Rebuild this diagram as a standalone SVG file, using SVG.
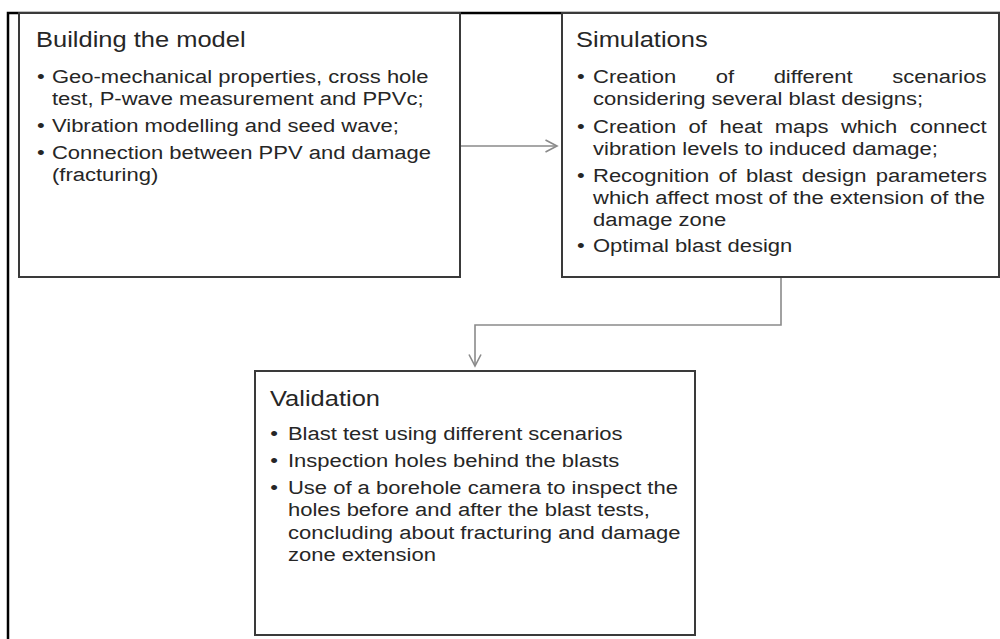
<svg xmlns="http://www.w3.org/2000/svg" width="1000" height="639" viewBox="0 0 1000 639">
  <style>
    .frame { fill: none; stroke: #000; stroke-width: 2.5; }
    .box { fill: #fff; stroke: #3a3a3a; stroke-width: 2; }
    .conn { fill: none; stroke: #8a8a8a; stroke-width: 1.6; }
    text { font-family: "Liberation Sans", Arial, sans-serif; fill: #262626; }
    .title { font-size: 22px; }
    .body { font-size: 19px; }
    .bul { font-size: 19px; text-anchor: middle; }
  </style>
  <defs>
    <marker id="chev" viewBox="0 0 14 14" refX="12.5" refY="7" markerWidth="14" markerHeight="14" markerUnits="userSpaceOnUse" orient="auto">
      <path d="M1,1 L12.5,7 L1,13" fill="none" stroke="#8a8a8a" stroke-width="1.6"/>
    </marker>
  </defs>

  <g id="frame">
    <path class="frame" d="M8,639 L8,13 L1000,13"/>
  </g>

  <g id="connectors">
    <path class="conn" d="M460,146 L557,146" marker-end="url(#chev)"/>
    <path class="conn" d="M781,277 L781,325 L475,325 L475,366" marker-end="url(#chev)"/>
  </g>

  <g id="node-building">
    <rect class="box" x="19" y="13" width="441" height="264"/>
    <g transform="translate(36,0) scale(1.158,1)">
      <text class="title" x="0" y="47">Building the model</text>
      <text class="bul" x="4.3" y="83">•</text>
      <text class="body" x="13.8" y="83">Geo-mechanical properties, cross hole</text>
      <text class="body" x="13.8" y="105">test, P-wave measurement and PPVc;</text>
      <text class="bul" x="4.3" y="132">•</text>
      <text class="body" x="13.8" y="132">Vibration modelling and seed wave;</text>
      <text class="bul" x="4.3" y="159">•</text>
      <text class="body" x="13.8" y="159">Connection between PPV and damage</text>
      <text class="body" x="13.8" y="181">(fracturing)</text>
    </g>
  </g>

  <g id="node-simulations">
    <rect class="box" x="562" y="13" width="437" height="264"/>
    <g transform="translate(576,0) scale(1.158,1)">
      <text class="title" x="0" y="47">Simulations</text>
      <text class="bul" x="4.3" y="83">•</text>
      <text class="body" x="14.7" y="83" word-spacing="28.9">Creation of different scenarios</text>
      <text class="body" x="14.7" y="105">considering several blast designs;</text>
      <text class="bul" x="4.3" y="133">•</text>
      <text class="body" x="14.7" y="133" word-spacing="5.5">Creation of heat maps which connect</text>
      <text class="body" x="14.7" y="155">vibration levels to induced damage;</text>
      <text class="bul" x="4.3" y="182">•</text>
      <text class="body" x="14.7" y="182" word-spacing="2.7">Recognition of blast design parameters</text>
      <text class="body" x="14.7" y="204">which affect most of the extension of the</text>
      <text class="body" x="14.7" y="226">damage zone</text>
      <text class="bul" x="4.3" y="252">•</text>
      <text class="body" x="14.7" y="252">Optimal blast design</text>
    </g>
  </g>

  <g id="node-validation">
    <rect class="box" x="255" y="371" width="440" height="264"/>
    <g transform="translate(270,0) scale(1.158,1)">
      <text class="title" x="0" y="406">Validation</text>
      <text class="bul" x="3.5" y="440">•</text>
      <text class="body" x="15.5" y="440">Blast test using different scenarios</text>
      <text class="bul" x="3.5" y="467">•</text>
      <text class="body" x="15.5" y="467">Inspection holes behind the blasts</text>
      <text class="bul" x="3.5" y="494">•</text>
      <text class="body" x="15.5" y="494">Use of a borehole camera to inspect the</text>
      <text class="body" x="15.5" y="516.5">holes before and after the blast tests,</text>
      <text class="body" x="15.5" y="539">concluding about fracturing and damage</text>
      <text class="body" x="15.5" y="561.5">zone extension</text>
    </g>
  </g>
</svg>
